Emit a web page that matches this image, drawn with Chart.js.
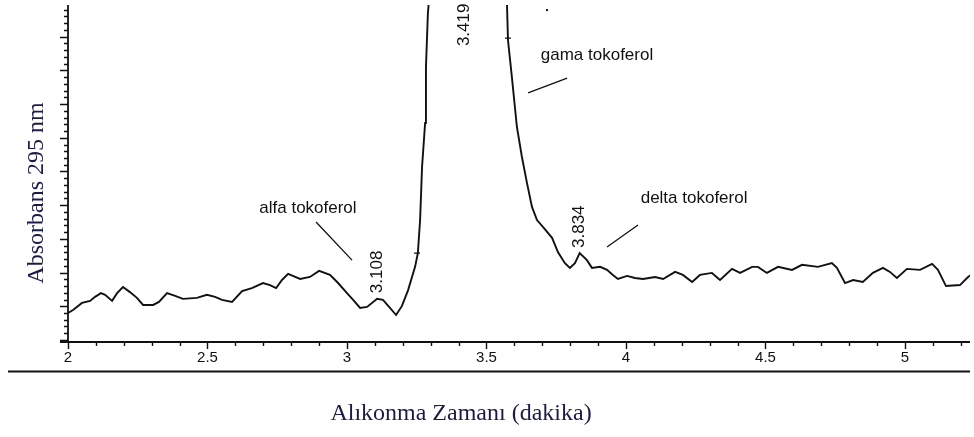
<!DOCTYPE html>
<html>
<head>
<meta charset="utf-8">
<title>Kromatogram - tokoferoller</title>
<script src="https://cdn.jsdelivr.net/npm/chart.js@4.4.1/dist/chart.umd.min.js"></script>
<style>
  html, body { margin: 0; padding: 0; background: #ffffff; }
  canvas { display: block; }
</style>
</head>
<body>
<canvas id="chrom" width="974" height="437"></canvas>
<script>
// Retention time (min) of each sampled point of the trace
const retentionTime = [
  2.000, 2.018, 2.050, 2.079, 2.097, 2.118, 2.133, 2.158, 2.176, 2.197,
  2.222, 2.247, 2.269, 2.305, 2.326, 2.355, 2.384, 2.412, 2.462, 2.498,
  2.527, 2.552, 2.588, 2.624, 2.659, 2.699, 2.724, 2.746, 2.767, 2.789,
  2.806, 2.832, 2.867, 2.900, 2.939, 2.968, 3.000, 3.022, 3.047, 3.072,
  3.108, 3.129, 3.154, 3.176, 3.197, 3.219, 3.244, 3.254, 3.262, 3.269,
  3.280, 3.283, 3.290, 3.294, 3.419, 3.573, 3.577, 3.591, 3.609, 3.627,
  3.645, 3.663, 3.681, 3.703, 3.735, 3.756, 3.781, 3.799, 3.817, 3.834,
  3.860, 3.878, 3.907, 3.932, 3.953, 3.971, 4.004, 4.032, 4.061, 4.104,
  4.133, 4.176, 4.204, 4.237, 4.265, 4.308, 4.337, 4.380, 4.409, 4.452,
  4.473, 4.505, 4.545, 4.595, 4.631, 4.688, 4.738, 4.756, 4.785, 4.814,
  4.849, 4.885, 4.921, 4.946, 4.971, 5.007, 5.054, 5.097, 5.118, 5.147,
  5.197, 5.226, 5.237
];

// Detector response at 295 nm (relative units)
const absorbance = [
  0.80, 0.89, 1.10, 1.16, 1.28, 1.39, 1.34, 1.16, 1.39, 1.57,
  1.42, 1.25, 1.04, 1.04, 1.13, 1.39, 1.31, 1.22, 1.25, 1.34,
  1.28, 1.19, 1.13, 1.45, 1.54, 1.69, 1.63, 1.54, 1.78, 1.96,
  1.90, 1.81, 1.87, 2.05, 1.93, 1.69, 1.39, 1.19, 0.95, 0.98,
  1.22, 1.19, 0.95, 0.74, 1.01, 1.48, 2.17, 2.58, 3.56, 5.13,
  6.44, 8.10, 9.70, 10.09, 40.0, 10.09, 8.90, 7.80, 6.32, 5.43,
  4.66, 3.95, 3.56, 3.35, 3.03, 2.61, 2.28, 2.14, 2.28, 2.58,
  2.37, 2.14, 2.17, 2.08, 1.93, 1.81, 1.90, 1.84, 1.81, 1.87,
  1.81, 2.02, 1.93, 1.72, 1.93, 1.99, 1.78, 2.11, 1.99, 2.17,
  2.17, 1.99, 2.17, 2.08, 2.23, 2.17, 2.28, 2.14, 1.69, 1.78,
  1.72, 1.99, 2.14, 2.02, 1.84, 2.11, 2.08, 2.26, 2.08, 1.60,
  1.63, 1.87, 1.93
];

// Labelled x-axis values (min)
const xTickLabels = [2, 2.5, 3, 3.5, 4, 4.5, 5];

// Peak apex times printed above the peaks
const peakTimes = [3.108, 3.419, 3.834];
const peakTimeText = ['3.108', '3.419', '3.834'];

// Compound names
const compoundNames = ['alfa tokoferol', 'gama tokoferol', 'delta tokoferol'];

const X_MIN = 2, X_MAX = 5.233;
const Y_MIN = -0.06, Y_MAX = 9.94;

// Where the annotation texts sit (in axis units)
const annotationLayout = {
  peakTextBase: [1.39, 8.72, 2.73],
  nameAt: [[2.860, 3.92], [3.896, 8.46], [4.244, 4.21]],
  leader: [
    [[2.889, 3.50], [3.018, 2.37]],
    [[3.649, 7.33], [3.789, 7.77]],
    [[4.043, 3.41], [3.932, 2.76]]
  ],
  integrationMarks: [[3.251, 2.58], [3.577, 8.96]],
  dot: [3.717, 9.79]
};

const INK = '#111111';
const SANS = '"Liberation Sans", Arial, sans-serif';
const SERIF = '"Liberation Serif", "Times New Roman", serif';

// Axes, ticks and axis titles drawn from the chart's own scales
const axesPlugin = {
  id: 'chromAxes',
  afterDraw(chart) {
    const { ctx, chartArea: a, scales: { x, y } } = chart;
    const base = a.bottom;
    ctx.save();
    ctx.strokeStyle = INK;
    ctx.lineWidth = 1.8;

    // axis lines
    ctx.beginPath();
    ctx.moveTo(a.left, a.top);
    ctx.lineTo(a.left, base);
    ctx.moveTo(a.left - 8, base);
    ctx.lineTo(a.right, base);
    ctx.stroke();

    // y ticks: major every 1, minor every 0.2
    ctx.lineWidth = 1.4;
    ctx.beginPath();
    for (let i = 0; i <= 50; i++) {
      const v = i * 0.2;
      if (v > Y_MAX) break;
      const py = Math.round(y.getPixelForValue(v)) + 0.5;
      const len = (i % 5 === 0) ? 8 : 4;
      ctx.moveTo(a.left - len, py);
      ctx.lineTo(a.left, py);
    }
    ctx.stroke();

    // x ticks: major every 0.5, minor every 0.1
    ctx.beginPath();
    for (let i = 0; i <= 40; i++) {
      const t = X_MIN + i * 0.1;
      if (t > X_MAX + 1e-6) break;
      const px = Math.round(x.getPixelForValue(t)) + 0.5;
      const len = (i % 5 === 0) ? 7 : 4;
      ctx.moveTo(px, base);
      ctx.lineTo(px, base + len);
    }
    ctx.stroke();

    // x tick labels
    ctx.fillStyle = INK;
    ctx.font = '15px ' + SANS;
    ctx.textAlign = 'center';
    ctx.textBaseline = 'middle';
    xTickLabels.forEach(t => {
      ctx.fillText(String(t), x.getPixelForValue(t), base + 16);
    });

    // rule under the axis
    ctx.lineWidth = 1.8;
    ctx.beginPath();
    ctx.moveTo(8, base + 29.5);
    ctx.lineTo(a.right, base + 29.5);
    ctx.stroke();

    // axis titles
    ctx.fillStyle = '#1b1b48';
    ctx.font = '24px ' + SERIF;
    ctx.textAlign = 'center';
    ctx.textBaseline = 'middle';
    ctx.fillText('Alıkonma Zamanı (dakika)', 461, base + 72);
    ctx.save();
    ctx.translate(37, 193);
    ctx.rotate(-Math.PI / 2);
    ctx.fillText('Absorbans 295 nm', 0, 0);
    ctx.restore();

    ctx.restore();
  }
};

// Peak times, compound names and leader lines
const annotationPlugin = {
  id: 'chromAnnotations',
  afterDatasetsDraw(chart) {
    const { ctx, scales: { x, y } } = chart;
    const L = annotationLayout;
    ctx.save();
    ctx.fillStyle = INK;
    ctx.strokeStyle = INK;
    ctx.lineWidth = 1.3;
    ctx.font = '17px ' + SANS;

    // rotated retention times
    peakTimes.forEach((t, i) => {
      ctx.save();
      ctx.translate(x.getPixelForValue(t), y.getPixelForValue(L.peakTextBase[i]));
      ctx.rotate(-Math.PI / 2);
      ctx.textAlign = 'left';
      ctx.textBaseline = 'middle';
      ctx.fillText(peakTimeText[i], 0, 0);
      ctx.restore();
    });

    // compound names
    ctx.textAlign = 'center';
    ctx.textBaseline = 'middle';
    compoundNames.forEach((name, i) => {
      const [t, v] = L.nameAt[i];
      ctx.fillText(name, x.getPixelForValue(t), y.getPixelForValue(v));
    });

    // leader lines
    ctx.beginPath();
    L.leader.forEach(([p, q]) => {
      ctx.moveTo(x.getPixelForValue(p[0]), y.getPixelForValue(p[1]));
      ctx.lineTo(x.getPixelForValue(q[0]), y.getPixelForValue(q[1]));
    });
    ctx.stroke();

    // integration start/end marks
    ctx.beginPath();
    L.integrationMarks.forEach(([t, v]) => {
      const px = x.getPixelForValue(t), py = y.getPixelForValue(v);
      ctx.moveTo(px - 3, py);
      ctx.lineTo(px + 3, py);
    });
    ctx.stroke();

    ctx.fillRect(x.getPixelForValue(L.dot[0]) - 1, y.getPixelForValue(L.dot[1]) - 1, 2, 2);
    ctx.restore();
  }
};

const points = retentionTime.map((t, i) => ({ x: t, y: absorbance[i] }));

new Chart(document.getElementById('chrom'), {
  type: 'line',
  data: {
    datasets: [{
      label: 'Absorbans 295 nm',
      data: points,
      borderColor: INK,
      borderWidth: 1.9,
      pointRadius: 0,
      tension: 0,
      fill: false
    }]
  },
  options: {
    responsive: false,
    animation: false,
    devicePixelRatio: 1,
    layout: { padding: { left: 68, right: 4, top: 5, bottom: 95 } },
    plugins: { legend: { display: false }, tooltip: { enabled: false } },
    scales: {
      x: { type: 'linear', min: X_MIN, max: X_MAX, display: false },
      y: { type: 'linear', min: Y_MIN, max: Y_MAX, display: false }
    }
  },
  plugins: [axesPlugin, annotationPlugin]
});
</script>
</body>
</html>
